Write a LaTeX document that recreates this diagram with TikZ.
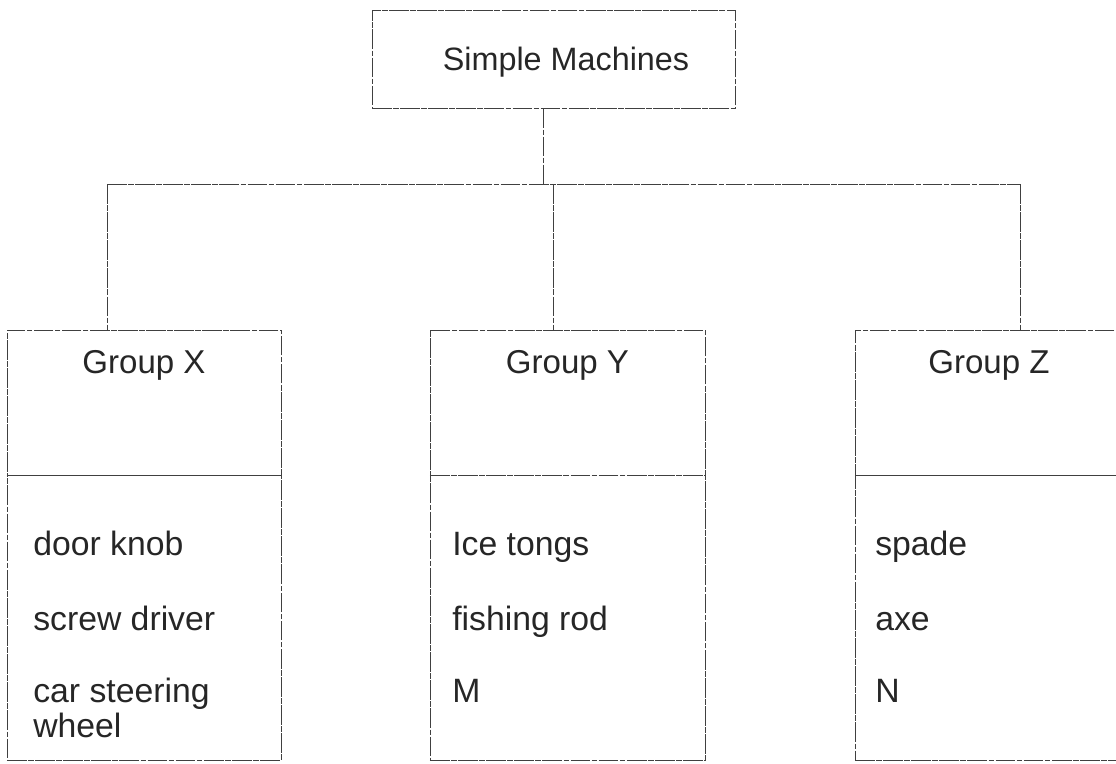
\documentclass[tikz,border=0pt]{standalone}
\usepackage{fontspec}
\setmainfont{Liberation Sans}
\usetikzlibrary{positioning}

\begin{document}
\begin{tikzpicture}[x=0.025cm,y=-0.025cm,
    link/.style={black!75, line width=0.6pt, dash pattern=on 14pt off 1pt on 4pt off 1pt},
    rootbox/.style={link, minimum width=9.075cm, minimum height=2.45cm, inner sep=0pt},
    headbox/.style={link, minimum width=#1, minimum height=3.625cm, inner sep=0pt},
    listbox/.style={link, minimum width=#1, minimum height=7.125cm, inner sep=0pt},
    title/.style={anchor=base, text=black!85, font=\fontsize{23.5}{28}\selectfont},
    item/.style={anchor=base west, inner sep=0pt, text=black!85, font=\fontsize{24}{28}\selectfont}]

\useasboundingbox (0,0) rectangle (1116,763);

% top box
\node[rootbox, draw] (root) at (553.5,59) {};
\node[title, font=\fontsize{23}{28}\selectfont] (rt) at (566,70) {Simple Machines};

% the three groups: header and list
\foreach \n/\cx/\w/\t in {x/144/6.85cm/Group X, y/567.5/6.875cm/Group Y, z/989/6.7cm/Group Z} {
        \node[headbox=\w, draw] (h\n) at (\cx,402.5) {};
        \node[listbox=\w, draw] (l\n) at (\cx,617.5) {};
        \node[title] (t\n) at (\cx,373) {\t};
    }

% connectors
\coordinate (bt) at (543,184);
\coordinate (bx) at (107,184);
\coordinate (by) at (553,184);
\coordinate (bz) at (1020,184);
\draw[link] (bt |- root.south) -- (bt);
\draw[link] (bx) -- (bz);
\draw[link] (bx) -- (bx |- hx.north);
\draw[link] (by) -- (by |- hy.north);
\draw[link] (bz) -- (bz |- hz.north);

% items
\node[item] (x1) at (33,555) {door knob};
\node[item] (x2) at (33,630) {screw driver};
\node[item] (x3) at (33,702) {car steering};
\node[item] (x4) at (33,737) {wheel};

\node[item] (y1) at (452,555) {Ice tongs};
\node[item] (y2) at (452,630) {fishing rod};
\node[item] (y3) at (452,702) {M};

\node[item] (z1) at (875,555) {spade};
\node[item] (z2) at (875,630) {axe};
\node[item] (z3) at (875,702) {N};

\end{tikzpicture}
\end{document}
